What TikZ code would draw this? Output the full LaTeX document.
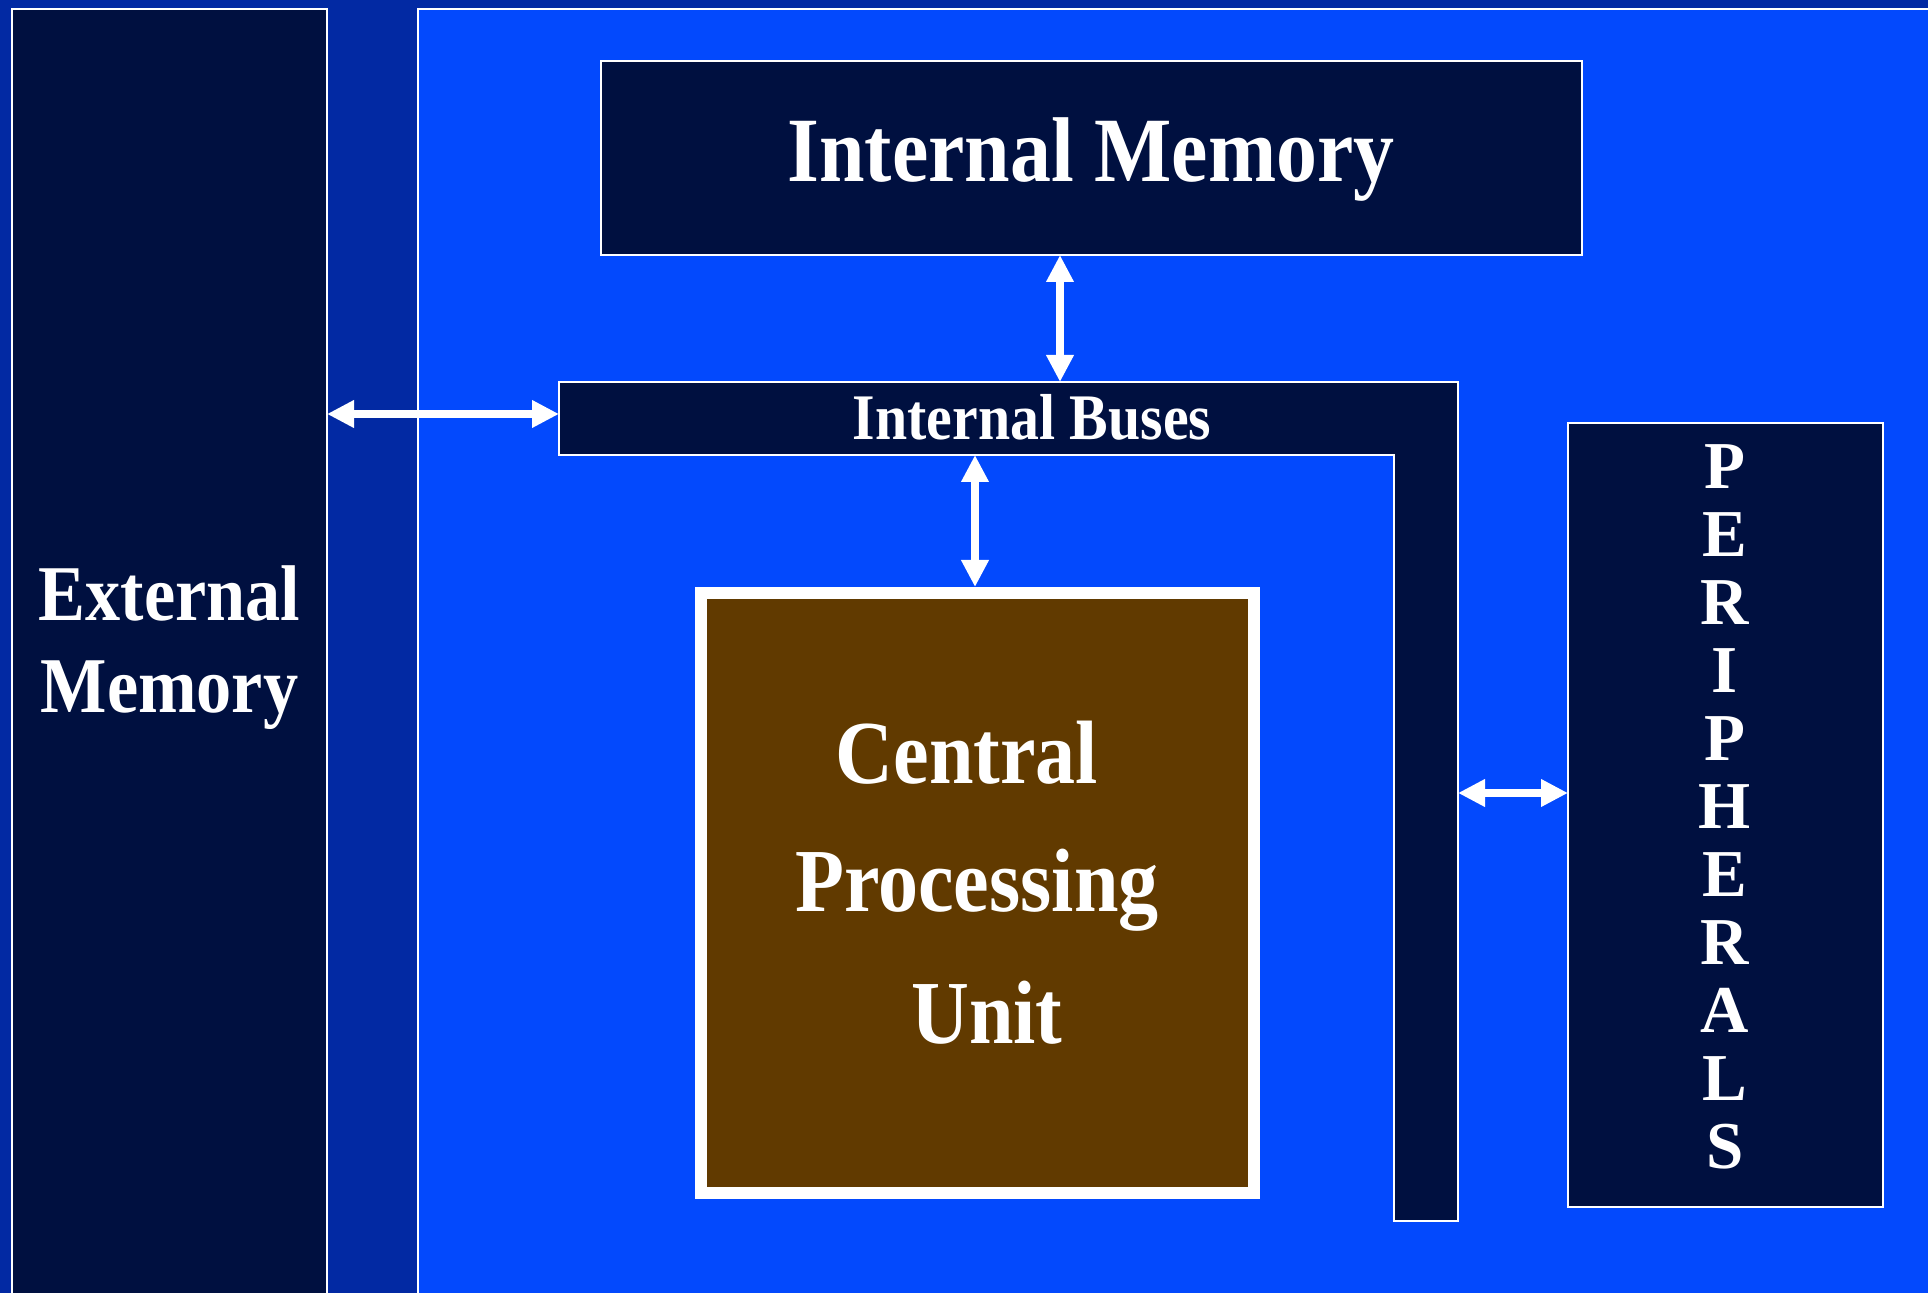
\documentclass[tikz,border=0pt]{standalone}
\usepackage{fontspec}
\setmainfont{Liberation Serif}[FakeStretch=0.89]
\newfontfamily\widefont{Liberation Serif}
\usetikzlibrary{arrows.meta}
\definecolor{bgdark}{RGB}{2,41,163}
\definecolor{bgbright}{RGB}{3,73,253}
\definecolor{navyfill}{RGB}{0,16,64}
\definecolor{cpubrown}{RGB}{97,58,0}
\tikzset{
  plainbox/.style={rectangle, inner sep=0pt, outer sep=0pt},
  box/.style={plainbox, draw=white, line width=1.25pt, fill=navyfill},
  txt/.style={text=white, inner sep=0pt, anchor=base},
  arr/.style={white, line width=4pt, {Triangle[length=13.5pt,width=13pt]}-{Triangle[length=13.5pt,width=13pt]}},
  edge line/.style={white, line width=1.25pt}
}
\begin{document}
\begin{tikzpicture}[x=0.5pt,y=-0.5pt]
\fill[bgdark] (0,0) rectangle (1928,1293);
\useasboundingbox (0,0) rectangle (1928,1293);
% inner bright region
\node[plainbox, fill=bgbright, minimum width=755pt, minimum height=642pt] (core) at (1173,651) {};
\draw[edge line] (core.south west) -- (core.north west) -- (core.north east);
% external memory
\node[plainbox, fill=navyfill, minimum width=157.5pt, minimum height=642pt] (extmem) at (169.5,651) {};
\draw[edge line] (extmem.south west) -- (extmem.north west) -- (extmem.north east) -- (extmem.south east);
\node[txt, font=\bfseries\fontsize{39.5pt}{46pt}\selectfont] (ext1) at (169.5,621) {External};
\node[txt, font=\bfseries\fontsize{39.5pt}{46pt}\selectfont] (ext2) at (169.5,713) {Memory};
% internal memory
\node[box, minimum width=490.5pt, minimum height=97pt] (intmem) at (1091.5,158) {};
\node[txt, font=\bfseries\fontsize{46pt}{50pt}\selectfont] (imtext) at (1091,182) {Internal Memory};
% internal buses (L shape)
\node[plainbox, minimum width=449.5pt, minimum height=36.5pt] (bar) at (1008.5,418.5) {};
\node[plainbox, minimum width=32pt, minimum height=383pt] (busv) at (1426,838) {};
\filldraw[fill=navyfill, draw=white, line width=1.25pt] (bar.north west) -- (bar.north east) -- (busv.south east) -- (busv.south west) -- (busv.north west) -- (bar.south west) -- cycle;
\node[txt, font=\bfseries\fontsize{32.5pt}{36pt}\selectfont] (bustext) at (1032,440) {Internal Buses};
% peripherals
\node[box, minimum width=157.5pt, minimum height=392pt] (periph) at (1725.5,815) {};
\foreach \l [count=\i from 0] in {P,E,R,I,P,H,E,R,A,L,S}
  \node[txt, font=\widefont\bfseries\fontsize{33.5pt}{36pt}\selectfont] (per\i) at (1725,489+\i*67.9) {\l};
% CPU
\node[plainbox, draw=white, line width=6pt, fill=cpubrown, minimum width=276.5pt, minimum height=300pt] (cpu) at (977.5,893) {};
\node[txt, font=\bfseries\fontsize{45pt}{50pt}\selectfont] (cpu1) at (967,784) {Central};
\node[txt, font=\bfseries\fontsize{45pt}{50pt}\selectfont] (cpu2) at (977,912) {Processing};
\node[txt, font=\bfseries\fontsize{45pt}{50pt}\selectfont] (cpu3) at (987,1043) {Unit};
% connectors
\coordinate (imx) at (1060,0);
\coordinate (cpx) at (975,0);
\coordinate (exy) at (0,414);
\coordinate (pry) at (0,793);
\draw[arr] (extmem.east |- exy) -- (bar.west |- exy);
\draw[arr] (intmem.south -| imx) -- (bar.north -| imx);
\draw[arr] (bar.south -| cpx) -- ([yshift=3pt]cpu.north -| cpx);
\draw[arr] (busv.east |- pry) -- (periph.west |- pry);
\end{tikzpicture}
\end{document}
